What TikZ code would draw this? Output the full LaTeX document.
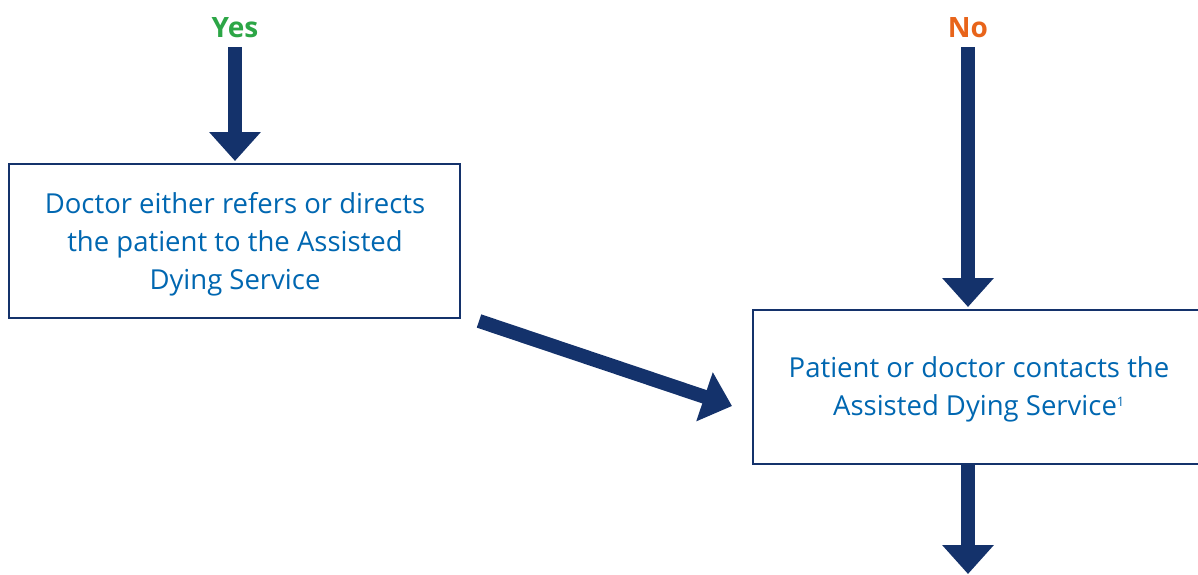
\documentclass[tikz,border=0pt]{standalone}
\usepackage{fontspec}
\setmainfont{Open Sans}
\usetikzlibrary{arrows.meta,calc}
\definecolor{navy}{RGB}{20,50,107}
\definecolor{txtblue}{RGB}{0,103,177}
\definecolor{yesgreen}{RGB}{44,166,70}
\definecolor{noorange}{RGB}{232,100,26}
\tikzset{
  box/.style={draw=navy, line width=2pt, fill=white, inner sep=0pt},
  boxtext/.style={text=txtblue, align=center, font=\fontsize{27.5}{38}\selectfont, inner sep=0pt},
  lbl/.style={font=\fontsize{28}{30}\selectfont\bfseries, inner sep=2pt},
  fat/.style={draw=navy, line width=14pt, -{Triangle[width=50pt,length=29pt]}},
}
\begin{document}
\begin{tikzpicture}[x=1pt,y=-1pt]
\useasboundingbox (0,0) rectangle (1198,574);
\node[lbl, text=yesgreen] (yes) at (235,28) {Yes};
\node[lbl, text=noorange] (no) at (968,28) {No};
\node[box, minimum width=451pt, minimum height=154pt] (left) at (234.5,241) {};
\node[boxtext] (ltext) at (235,244)
  {Doctor either refers or directs\\the patient to the Assisted\\Dying Service};
\node[box, minimum width=449pt, minimum height=154pt] (right) at (977.5,387) {};
\node[boxtext] (rtext) at (979,389)
  {Patient or doctor contacts the\\Assisted Dying Service\textsuperscript{\fontsize{13}{13}\selectfont 1}};
\coordinate (end) at (968,574);
\draw[fat] ($(yes.south)+(0,7)$) -- ($(yes.south |- left.north)+(0,-2)$);
\draw[fat] ($(no.south)+(0,7)$) -- ($(no.south |- right.north)+(0,-2)$);
\draw[fat] ($(left.south east)+(18,2)$) -- ($(right.west)+(-20,19)$);
\draw[fat] (end |- right.south) -- (end);
\end{tikzpicture}
\end{document}
